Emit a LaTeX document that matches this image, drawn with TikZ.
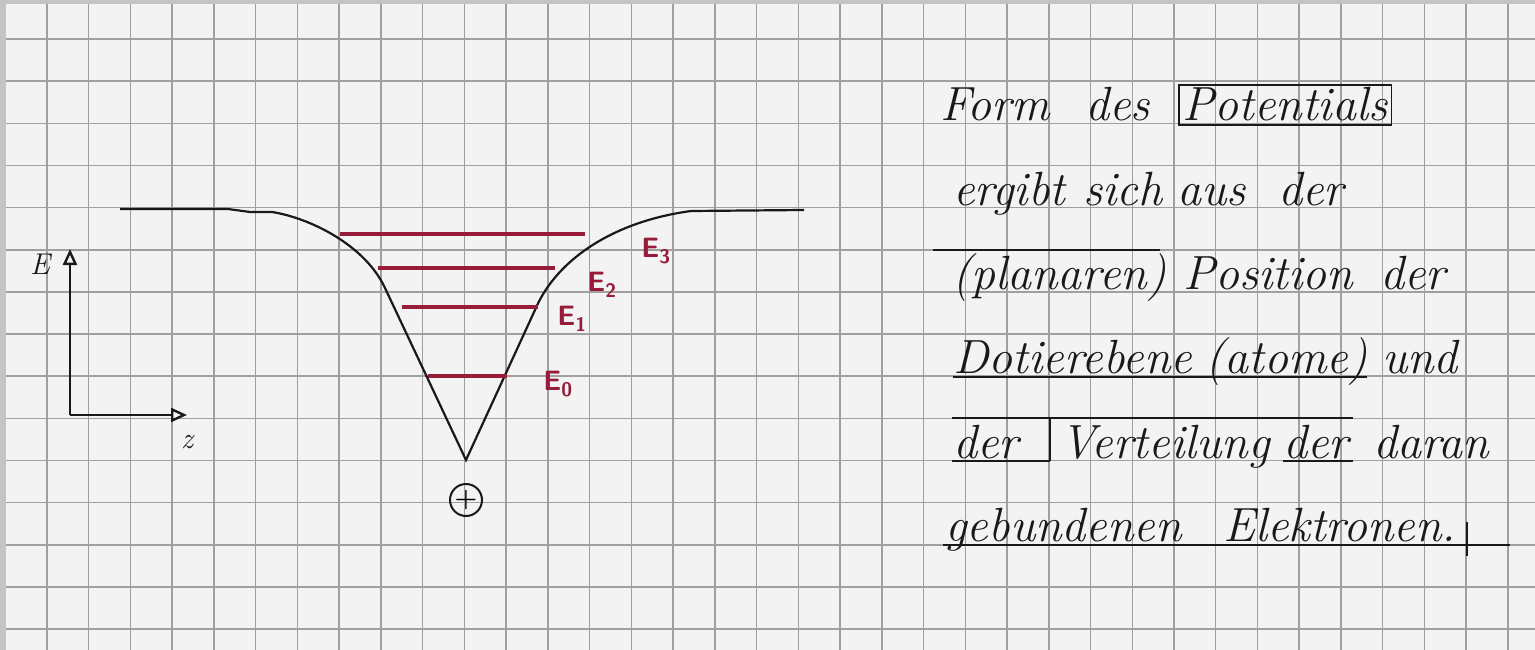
\documentclass[tikz,border=0pt]{standalone}
\usepackage{tikz}
\usetikzlibrary{positioning, arrows.meta, calc}
\definecolor{paperbg}{RGB}{243,243,243}
\definecolor{gridgray}{RGB}{160,160,160}
\definecolor{framegray}{RGB}{196,196,196}
\definecolor{levelred}{RGB}{150,28,58}
\definecolor{ink}{RGB}{25,25,25}
\tikzset{
  gridline/.style={draw=gridgray, line width=1.5pt},
  pot/.style={draw=ink, line width=2.2pt, line join=miter},
  level/.style={draw=levelred, line width=4pt},
  lvllabel/.style={
    text=levelred, inner sep=0pt,
    font=\sffamily\bfseries\fontsize{28}{32}\selectfont
  },
  axis/.style={draw=ink, line width=2.4pt, -{Triangle[open, length=16pt, width=14pt]}},
  axlabel/.style={text=ink, inner sep=0pt, font=\itshape\fontsize{30}{34}\selectfont},
  nucleus/.style={
    circle, draw=ink, line width=2pt, minimum size=32pt,
    inner sep=0pt, font=\bfseries\fontsize{26}{26}\selectfont
  },
  hand/.style={
    anchor=base west, inner sep=0pt, text=ink,
    font=\itshape\fontsize{48}{56}\selectfont
  },
  boxed/.style={draw=ink, line width=1.8pt, inner xsep=4pt, inner ysep=3pt, text depth=1pt},
  handline/.style={draw=ink, line width=1.8pt}
}

\begin{document}
\begin{tikzpicture}[x=1pt, y=-1pt]
\useasboundingbox (0,0) rectangle (1535,650);

%% squared paper
\fill[paperbg] (0,0) rectangle (1535,650);
\foreach \gx in {0,...,35}
  \draw[gridline] ({47+41.74*\gx},0) -- ({47+41.74*\gx},650);
\foreach \gy in {0,...,14}
  \draw[gridline] (0,{39+42.15*\gy}) -- (1535,{39+42.15*\gy});
\fill[framegray] (0,0) rectangle (6,650);
\fill[framegray] (0,0) rectangle (1535,4);

%% axes
\coordinate (origin) at (70,415);
\coordinate (etip) at (70,249);
\coordinate (ztip) at (187,415);
\draw[axis] (origin) -- (etip);
\draw[axis] (origin) -- (ztip);
\node[axlabel] (elabel) at (40,264) {E};
\node[axlabel, below=20pt of ztip] (zlabel) {z};

%% potential well
\draw[pot] (120,209) -- (228,209) -- (250,212) -- (272,212)
  .. controls (310,218) and (365,245) .. (385,288)
  -- (466,460) -- (535,310)
  .. controls (555,262) and (610,222) .. (691,211) -- (804,210);

%% bound levels
\foreach \ly/\lx/\rx in {234/340/585, 268/378/555, 307/402/538, 376/428/507}
  \draw[level] (\lx,\ly) -- (\rx,\ly);
\foreach \n/\px/\py in {3/656/251, 2/602/285, 1/572/319, 0/558/384}
  \node[lvllabel] (e\n) at (\px,\py) {E\textsubscript{\n}};

%% donor ion
\node[nucleus] (core) at (466,500) {+};

%% handwritten note
\foreach \wx/\wtxt [count=\i] in {940/Form, 1085/des}
  \node[hand] (lform\i) at (\wx,121) {\wtxt};
\node[hand, boxed] (lpot) at (1178,121) {Potentials};
\foreach \wx/\wtxt [count=\i] in {953/ergibt, 1083/sich, 1177/aus, 1278/der}
  \node[hand] (lergibt\i) at (\wx,205) {\wtxt};
\foreach \wx/\wtxt [count=\i] in {952/(planaren), 1183/Position, 1380/der}
  \node[hand] (lplanar\i) at (\wx,289) {\wtxt};
\foreach \wx/\wtxt [count=\i] in {953/Dotierebene, 1205/(atome), 1382/und}
  \node[hand] (ldotier\i) at (\wx,373) {\wtxt};
\foreach \wx/\wtxt [count=\i] in {953/der, 1060/Verteilung, 1283/der, 1373/daran}
  \node[hand] (lverteil\i) at (\wx,458) {\wtxt};
\foreach \wx/\wtxt [count=\i] in {945/gebundenen, 1223/Elektronen.}
  \node[hand] (lgebund\i) at (\wx,541) {\wtxt};

%% pen strokes on the note
\draw[handline] (933,250) -- (1160,250);
\draw[handline] ([yshift=-4pt]ldotier1.base west) -- ([yshift=-4pt]ldotier2.base east);
\draw[handline] (952,418) -- (1353,418);
\draw[handline] (1050,418) -- (1050,461);
\draw[handline] (952,461) -- (1050,461);
\draw[handline] (1283,461) -- (1353,461);
\draw[handline] (943,545) -- (1510,545);
\draw[handline] (1467,522) -- (1467,556);

\end{tikzpicture}
\end{document}
